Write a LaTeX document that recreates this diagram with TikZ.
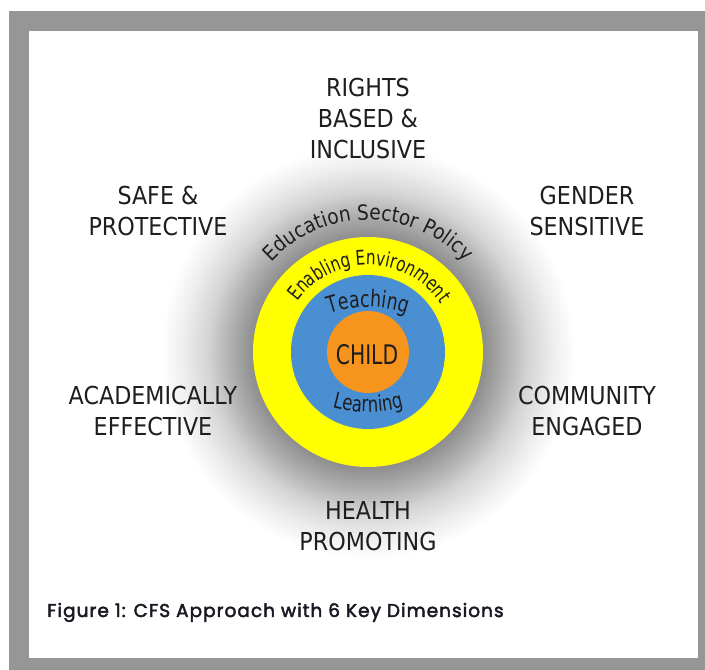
\documentclass[tikz,border=0pt]{standalone}
\usepackage{fontspec}
\usetikzlibrary{decorations.text}
\newfontfamily\lfont[FakeStretch=0.9]{DejaVu Sans}
\newfontfamily\cfontA[FakeStretch=0.88]{DejaVu Sans}
\newfontfamily\cfontB[FakeStretch=0.75]{DejaVu Sans}
\newfontfamily\capfont[FakeBold=2.5,LetterSpace=5.5]{Poppins}
\definecolor{framegray}{RGB}{150,150,150}
\definecolor{ringyellow}{RGB}{255,255,0}
\definecolor{ringblue}{RGB}{74,143,210}
\definecolor{ringorange}{RGB}{247,148,30}
\definecolor{ink}{RGB}{30,30,30}
\definecolor{capink}{RGB}{25,25,35}
\pgfdeclareradialshading{glow}{\pgfpoint{0bp}{0bp}}{color(0bp)=(black!45); color(13bp)=(black!45); color(15.9bp)=(black!30); color(18.2bp)=(black!17); color(21bp)=(black!7); color(23.5bp)=(white); color(50bp)=(white)}
\newcommand\fEdu{\cfontA\fontsize{21}{21}\selectfont\color{ink}}
\newcommand\fEnab{\cfontB\fontsize{20.3}{20.3}\selectfont\color{ink}}
\newcommand\fTeach{\cfontB\fontsize{23}{23}\selectfont\color{ink}}
\newcommand\fLearn{\cfontB\fontsize{22}{22}\selectfont\color{ink}}
\newcommand\fChild{\cfontB\fontsize{27}{27}\selectfont}
\tikzset{
  dimtext/.style={font=\lfont\fontsize{24.7}{31}\selectfont, text=ink, align=center, inner sep=0pt},
  ring/.style={circle, inner sep=0pt, draw=none},
  curvetext/.style={decorate, decoration={text along path, text align=center, text={#1}}}
}
\begin{document}
\begin{tikzpicture}[x=1pt,y=1pt]
\useasboundingbox (0,0) rectangle (705,670);
\fill[white] (0,0) rectangle (705,670);
\fill[framegray] (9,0) rectangle (705,659);
\fill[white] (29,12) rectangle (698,639);
\coordinate (c) at (368,318);
\fill[shading=glow] (c) circle[radius=220];
\draw[white, line width=6pt] (c) circle[radius=220];
\node[ring, fill=ringyellow, minimum size=230pt] (yellow) at (c) {};
\node[ring, fill=ringblue, minimum size=154pt] (blue) at (c) {};
\node[ring, fill=ringorange, minimum size=82pt] (orange) at (c) {};
\node[font=\fChild, text=ink, inner sep=0pt] (child) at (367,315) {CHILD};
% curved texts
\path[curvetext={|\fEdu|Education Sector Policy}] ([shift={(170:132)}]c) arc[start angle=170, end angle=10, radius=132];
\path[curvetext={|\fEnab|Enabling Environment}] ([shift={(178:87)}]c) arc[start angle=178, end angle=0, radius=87];
\coordinate (tc) at (368,243);
\path[curvetext={|\fTeach|Teaching}] ([shift={(125:120)}]tc) arc[start angle=125, end angle=55, radius=120];
\coordinate (lc) at (368,388);
\path[curvetext={|\fLearn|Learning}] ([shift={(235:130)}]lc) arc[start angle=235, end angle=305, radius=130];
% six dimensions
\node[dimtext] (rights) at (368,551.5) {RIGHTS\\BASED \&\\INCLUSIVE};
\node[dimtext] (safe) at (158,459) {SAFE \&\\PROTECTIVE};
\node[dimtext] (gender) at (587,459) {GENDER\\SENSITIVE};
\node[dimtext] (academic) at (153,259) {ACADEMICALLY\\EFFECTIVE};
\node[dimtext] (community) at (587,259) {COMMUNITY\\ENGAGED};
\node[dimtext] (health) at (368,144) {HEALTH\\PROMOTING};
% caption
\node[anchor=base west, inner sep=0pt, font=\capfont\fontsize{18.5}{20}\selectfont, text=capink] (caption) at (47,53) {Figure 1: CFS Approach with 6 Key Dimensions};
\end{tikzpicture}
\end{document}
